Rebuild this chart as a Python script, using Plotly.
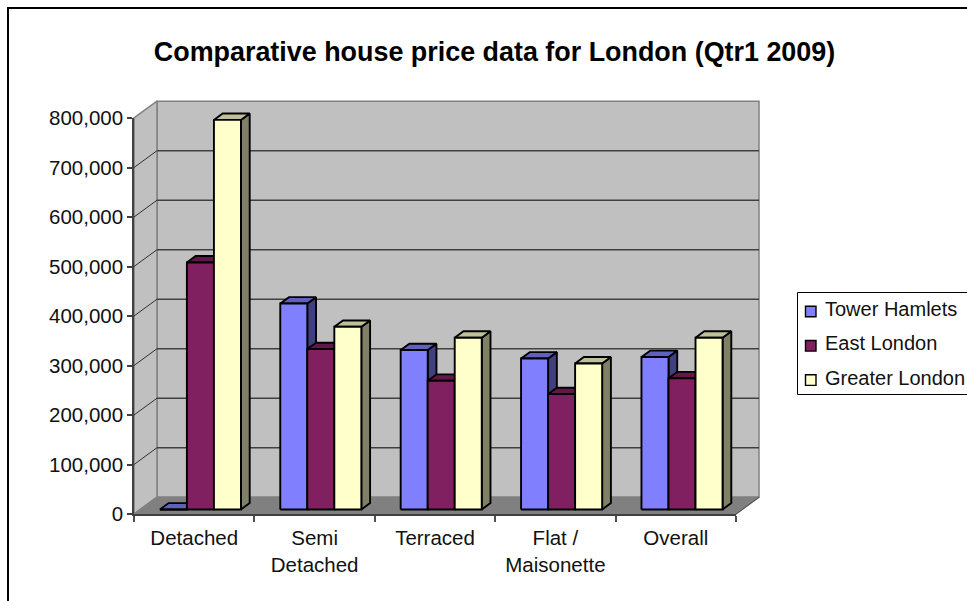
import plotly.graph_objects as go

categories = ["Detached", "Semi<br>Detached", "Terraced", "Flat /<br>Maisonette", "Overall"]
tower_hamlets = [0, 416000, 322000, 305000, 308000]
east_london = [499000, 324000, 260000, 233000, 265000]
greater_london = [787000, 369000, 347000, 295000, 347000]
series_names = ["Tower Hamlets", "East London", "Greater London"]
series_values = [tower_hamlets, east_london, greater_london]
front_colors = ["#8080FF", "#802060", "#FFFFCC"]
top_colors = ["#6060C0", "#601848", "#BFBF99"]
side_colors = ["#404080", "#401030", "#808066"]
y_ticks = list(range(0, 900000, 100000))

# front plane of the chart and the larger drawing region, in page pixels
W, H = 967, 601
L, R, T, B = 134, 736, 118, 514
PL, PR, PT, PB = 128, 766, 96, 520
CAT = (R - L) / 5
VAL = (B - T) / 800000
DX = 23 / CAT            # wall depth, in category units
DY = 16.8 / VAL          # wall depth, in value units
D0, D1 = 0.27, 0.65      # bar front/back depth
BW = 0.2245              # bar width in category units


def pr(x, v, d):
    return x + d * DX, v + d * DY


def poly(points, fill, line, width=1.9):
    xs, ys = zip(*[pr(*p) for p in points + points[:1]])
    return go.Scatter(x=list(xs), y=list(ys), mode="lines", fill="toself", fillcolor=fill,
                      line=dict(color=line, width=width),
                      showlegend=False, hoverinfo="skip")


def seg(pairs, color, width=1.5):
    xs, ys = [], []
    for a, b in pairs:
        for p in (a, b):
            q = pr(*p)
            xs.append(q[0]); ys.append(q[1])
        xs.append(None); ys.append(None)
    return go.Scatter(x=xs, y=ys, mode="lines", line=dict(color=color, width=width),
                      showlegend=False, hoverinfo="skip")


x0, x1 = -0.5, 4.5
top = y_ticks[-1]
traces = [
    poly([(x0, 0, 1), (x1, 0, 1), (x1, top, 1), (x0, top, 1)], "#C0C0C0", "#808080", 1.5),
    poly([(x0, 0, 0), (x0, 0, 1), (x0, top, 1), (x0, top, 0)], "#C0C0C0", "#808080", 1.5),
    poly([(x0, 0, 0), (x1, 0, 0), (x1, 0, 1), (x0, 0, 1)], "#808080", "#808080", 1.5),
    seg([((x0, v, 1), (x1, v, 1)) for v in y_ticks[1:-1]], "#404040"),
    seg([((x0, v, 0), (x0, v, 1)) for v in y_ticks[1:-1]], "#303030", 1),
    seg([((x1, 0, 0), (x1, 0, 1))], "#505050", 1),
]

for c in range(len(categories)):
    for s, vals in enumerate(series_values):
        v = vals[c]
        a = c - 1.5 * BW + s * BW
        b = a + BW
        traces.append(poly([(b, 0, D0), (b, 0, D1), (b, v, D1), (b, v, D0)], side_colors[s], "black"))
        traces.append(poly([(a, v, D0), (b, v, D0), (b, v, D1), (a, v, D1)], top_colors[s], "black"))
        traces.append(poly([(a, 0, D0), (b, 0, D0), (b, v, D0), (a, v, D0)], front_colors[s], "black"))

# empty trace that carries the visible axes of the front plane
traces.append(go.Scatter(x=[None], y=[None], xaxis="x2", yaxis="y2", mode="lines",
                         showlegend=False, hoverinfo="skip"))

fig = go.Figure(traces)


def px(x):
    return (x - PL) / (PR - PL)


def py(y):
    return (PB - y) / (PB - PT)


shapes = [dict(type="rect", xref="paper", yref="paper", x0=px(8), x1=px(990), y0=py(8), y1=py(640),
               line=dict(color="black", width=2), fillcolor="rgba(0,0,0,0)", layer="below"),
          dict(type="rect", xref="paper", yref="paper", x0=px(797.5), x1=px(990), y0=py(292.5), y1=py(394.5),
               line=dict(color="black", width=1), fillcolor="white", layer="below")]
annotations = []
for i, name in enumerate(series_names):
    yc = 311.5 + i * 34.3
    shapes.append(dict(type="rect", xref="paper", yref="paper", x0=px(805.5), x1=px(816),
                       y0=py(yc - 5.3), y1=py(yc + 5.3),
                       line=dict(color="black", width=1.4), fillcolor=front_colors[i]))
    annotations.append(dict(text=name, xref="paper", yref="paper", x=px(822.5), y=py(yc - 2.5),
                            xanchor="left", yanchor="middle", showarrow=False,
                            font=dict(family="Liberation Sans", size=20, color="#111111")))

font = dict(family="Liberation Sans", size=20.5, color="#111111")
fig.update_layout(
    width=W, height=H, autosize=False,
    margin=dict(l=PL, r=W - PR, t=PT, b=H - PB, pad=0),
    paper_bgcolor="white", plot_bgcolor="rgba(0,0,0,0)",
    showlegend=False,
    title=dict(text="<b>Comparative house price data for London (Qtr1 2009)</b>",
               x=494.5 / W, y=1 - 52 / H, xref="container", yref="container",
               xanchor="center", yanchor="middle",
               font=dict(family="Liberation Sans", size=26.9, color="black")),
    # hidden axes for the 3-D drawing; same scale as the visible ones, wider span
    xaxis=dict(visible=False, domain=[0, 1], anchor="y",
               range=[x0 + (PL - L) / CAT, x0 + (PR - L) / CAT]),
    yaxis=dict(visible=False, domain=[0, 1], anchor="x",
               range=[(B - PB) / VAL, (B - PT) / VAL]),
    xaxis2=dict(domain=[px(L), px(R)], anchor="y2", range=[x0, x1], tickvals=list(range(5)),
                ticktext=categories, ticks="", showgrid=False, zeroline=False,
                showline=True, linecolor="#404040", linewidth=1.5,
                tickfont=font, ticklabelstandoff=5,
                minor=dict(tickvals=[x0 + i for i in range(6)], ticks="outside", ticklen=6,
                           tickcolor="#505050", tickwidth=1.5, showgrid=False)),
    yaxis2=dict(domain=[py(B), py(T)], anchor="x2", range=[0, top], tickvals=y_ticks,
                tickformat=",", ticks="outside", ticklen=5,
                tickcolor="#404040", tickwidth=1.5, showgrid=False, zeroline=False,
                showline=True, linecolor="#404040", linewidth=1.5, tickfont=font),
    shapes=shapes, annotations=annotations,
)
fig.write_html("out.html", config={"displayModeBar": False},
               post_script="document.body.style.margin='0';")
